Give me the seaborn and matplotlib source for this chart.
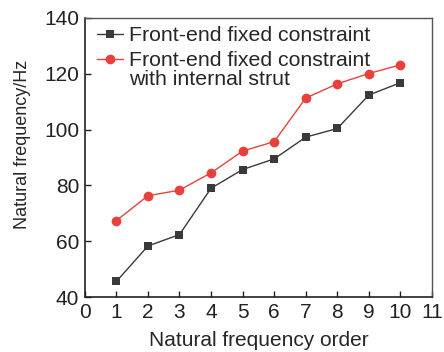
import matplotlib
matplotlib.use("Agg")
import matplotlib.pyplot as plt
import seaborn as sns
import pandas as pd

order = [1, 2, 3, 4, 5, 6, 7, 8, 9, 10]
fixed = [45.6, 58.3, 62.4, 79.0, 85.7, 89.5, 97.3, 100.4, 112.4, 116.8]
strut = [67.4, 76.3, 78.3, 84.5, 92.3, 95.7, 111.3, 116.4, 120.1, 123.2]
labels = ["Front-end fixed constraint", "Front-end fixed constraint"]
label2_extra = "with internal strut"

sns.set_theme(style="ticks")
plt.rcParams['font.family'] = ['Liberation Sans', 'DejaVu Sans']

df = pd.DataFrame({
    "order": order * 2,
    "freq": fixed + strut,
    "case": ["A"] * len(order) + ["B"] * len(order),
})

fig = plt.figure(figsize=(4.44, 3.52), dpi=100)
ax = fig.add_axes([0.191, 0.156, 0.782, 0.793])

sns.lineplot(data=df, x="order", y="freq", hue="case", style="case",
             palette=["#3a3a3a", "#e8413c"], markers=["s", "o"], dashes=False,
             markersize=6.5, markeredgewidth=0, linewidth=1.0, ax=ax)
sizes = [5.8, 7.0]
for ln, ms in zip(ax.lines[:2], sizes):
    ln.set_markersize(ms)

ax.set_xlim(0, 11)
ax.set_ylim(40, 140)
ax.set_xticks(range(0, 12))
ax.set_yticks(range(40, 141, 20))
ax.tick_params(direction="in", length=4, width=1, labelsize=15, colors="#222222")
ax.tick_params(axis="y", pad=4)
ax.tick_params(axis="x", pad=4)
ax.set_xlabel("Natural frequency order", fontsize=15, labelpad=7)
ax.set_ylabel("Natural frequency/Hz", fontsize=13)
ax.yaxis.set_label_coords(-0.156, 0.548)
for s in ["left", "bottom"]:
    ax.spines[s].set_linewidth(1.2)
    ax.spines[s].set_color("#222222")
for s in ["top", "right"]:
    ax.spines[s].set_visible(True)
    ax.spines[s].set_linewidth(1.0)
    ax.spines[s].set_color("#555555")

handles, _ = ax.get_legend_handles_labels()
leg = ax.legend(handles[:2], labels, loc="upper left", bbox_to_anchor=(0.035, 0.971),
                frameon=False, fontsize=15.3, handlelength=1.22,
                handletextpad=0.28, borderaxespad=0, borderpad=0, labelspacing=0.3)
for h, ms in zip(leg.get_lines(), sizes):
    h.set_markersize(ms)

fig.canvas.draw()
bb = leg.get_texts()[1].get_window_extent()
fig.text(bb.x0, (bb.y0 + bb.y1) / 2 - 19, label2_extra, transform=None,
         fontsize=15.3, va="center", ha="left", color=leg.get_texts()[1].get_color())

fig.savefig("out.png", dpi=100)
